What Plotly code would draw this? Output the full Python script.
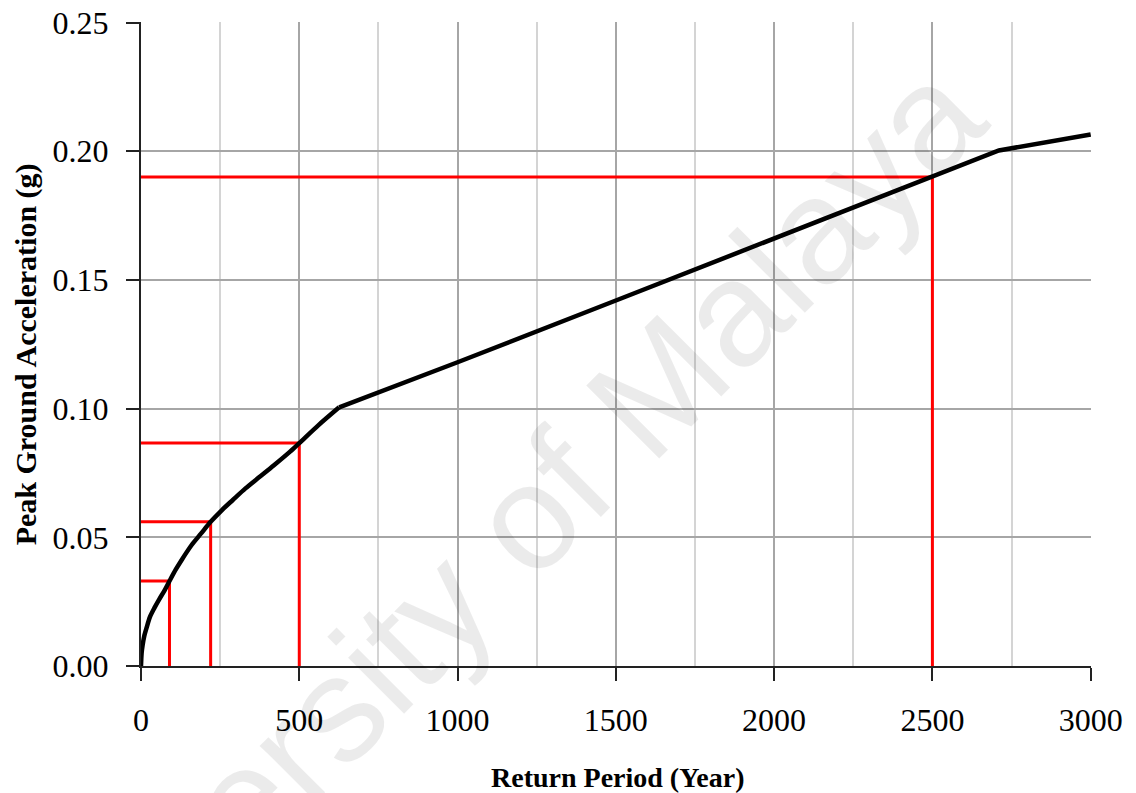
import plotly.graph_objects as go

# Hazard curve
return_period = [0, 2, 5, 10, 18, 28, 42, 58, 75, 90, 110, 130, 160, 190, 220, 255, 290, 330, 375,
                 420, 470, 500, 560, 626, 1000, 1500, 2000, 2500, 2710, 3000]
pga = [0, 0.005, 0.008, 0.0115, 0.015, 0.019, 0.0225, 0.026, 0.0295, 0.033, 0.0375, 0.0415, 0.047,
       0.0515, 0.056, 0.0605, 0.0645, 0.069, 0.0735, 0.078, 0.0832, 0.0866, 0.0935, 0.1005,
       0.118, 0.142, 0.166, 0.190, 0.2003, 0.2065]

# Red reference lines (return period, PGA)
ref_periods = [90, 220, 500, 2500]
ref_pga = [0.033, 0.056, 0.0866, 0.190]

x_tick_vals = [0, 500, 1000, 1500, 2000, 2500, 3000]
x_tick_text = ["0", "500", "1000", "1500", "2000", "2500", "3000"]
y_tick_vals = [0.00, 0.05, 0.10, 0.15, 0.20, 0.25]
y_tick_text = ["0.00", "0.05", "0.10", "0.15", "0.20", "0.25"]

KNEE = return_period.index(626)

fig = go.Figure()

for rp, a in zip(ref_periods, ref_pga):
    fig.add_trace(go.Scatter(x=[0, rp, rp], y=[a, a, 0], mode="lines",
                             line=dict(color="#ff0000", width=3),
                             showlegend=False, hoverinfo="skip"))

# curved part (smooth) and straight part of the same curve
fig.add_trace(go.Scatter(x=return_period[:KNEE + 1], y=pga[:KNEE + 1], mode="lines",
                         line=dict(color="black", width=4.5, shape="spline", smoothing=0.8),
                         showlegend=False))
fig.add_trace(go.Scatter(x=return_period[KNEE:], y=pga[KNEE:], mode="lines",
                         line=dict(color="black", width=4.5),
                         showlegend=False))

serif = "Liberation Serif, Times New Roman, serif"

# page body has an 8px margin, so the figure is 8px smaller and margins shifted
fig.update_layout(
    width=1128, height=785,
    margin=dict(l=133, r=45, t=14, b=127),
    paper_bgcolor="white", plot_bgcolor="white",
    font=dict(family=serif, color="black"),
    xaxis=dict(range=[0, 3001], tickvals=x_tick_vals, ticktext=x_tick_text,
               automargin=False, ticklabeloverflow="allow",
               showgrid=True, gridcolor="#a6a6a6", gridwidth=1.5,
               minor=dict(dtick=250, tick0=0, showgrid=True, gridcolor="#d4d4d4", gridwidth=1.5),
               showline=True, linecolor="#222", linewidth=2,
               ticks="outside", ticklen=13, tickwidth=2, tickcolor="#222",
               tickfont=dict(family=serif, size=32, color="black"),
               ticklabelstandoff=12, zeroline=False),
    yaxis=dict(range=[0, 0.2502], tickvals=y_tick_vals, ticktext=y_tick_text,
               automargin=False, ticklabeloverflow="allow",
               showgrid=True, gridcolor="#a6a6a6", gridwidth=1.5,
               showline=True, linecolor="#222", linewidth=2,
               ticks="outside", ticklen=13, tickwidth=2, tickcolor="#222",
               tickfont=dict(family=serif, size=32, color="black"),
               ticklabelstandoff=11, zeroline=False),
    annotations=[
        dict(text="<b>Return Period (Year)</b>", xref="paper", yref="paper",
             x=0.502, y=-0.173, xanchor="center", yanchor="middle", showarrow=False,
             font=dict(family=serif, size=28, color="black")),
        dict(text="<b>Peak Ground Acceleration (g)</b>", xref="paper", yref="paper",
             x=-0.121, y=0.484, xanchor="center", yanchor="middle", showarrow=False,
             textangle=-90, font=dict(family=serif, size=30, color="black")),
        dict(text="University of Malaya", xref="paper", yref="paper",
             x=0.355, y=0.155, xanchor="center", yanchor="middle", showarrow=False,
             textangle=-45, font=dict(family="Liberation Sans, Arial, sans-serif", size=150,
                                       color="rgba(0,0,0,0.08)")),
    ],
)

fig.write_html("out.html")
